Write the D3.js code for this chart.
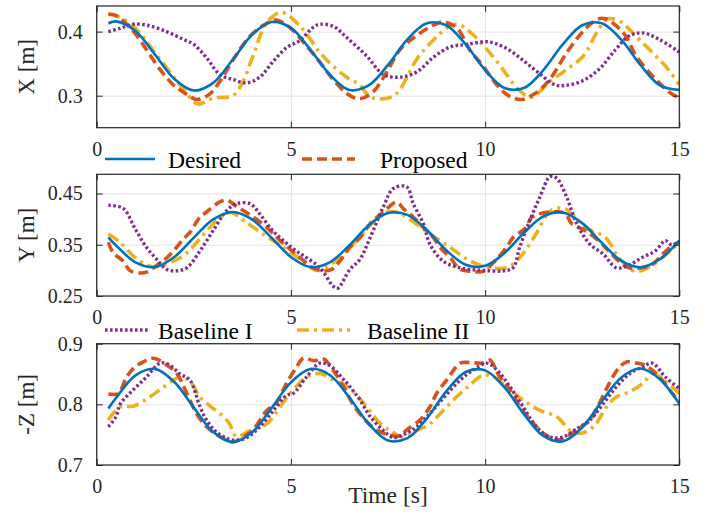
<!DOCTYPE html>
<html><head><meta charset="utf-8">
<script src="https://cdn.jsdelivr.net/npm/d3@7"></script>
<style>
html,body{margin:0;padding:0;background:#fff;}
svg{display:block;}
svg text{font-family:'Liberation Serif', serif !important;}
</style></head>
<body><svg id="chart" width="706" height="517" font-family="Liberation Serif"></svg>
<script>
// ---------- DATA ----------
const xTicks = [0, 5, 10, 15];

// X panel
const xDesired = [[0.3,0.413],[0.5,0.416],[1,0.401],[1.5,0.364],[2,0.326],[2.5,0.308],[3,0.32],[3.5,0.356],[4,0.395],[4.5,0.415],[5,0.406],[5.5,0.372],[6,0.333],[6.5,0.309],[7,0.316],[7.5,0.348],[8,0.388],[8.5,0.413],[9,0.41],[9.5,0.38],[10,0.34],[10.5,0.312],[11,0.312],[11.5,0.34],[12,0.38],[12.5,0.41],[13,0.413],[13.5,0.388],[14,0.348],[14.5,0.316],[15,0.309]];
const xProposed = [[0.3,0.427],[0.5,0.425],[0.94,0.401],[1.28,0.372],[1.63,0.341],[1.97,0.317],[2.32,0.302],[2.57,0.294],[2.9,0.302],[3.2,0.325],[3.52,0.357],[3.95,0.393],[4.38,0.413],[4.63,0.418],[4.98,0.406],[5.4,0.378],[5.75,0.352],[6.09,0.325],[6.45,0.303],[6.75,0.295],[7.1,0.305],[7.45,0.335],[7.81,0.372],[8.24,0.394],[8.67,0.41],[8.92,0.415],[9.27,0.406],[9.61,0.371],[9.95,0.346],[10.3,0.317],[10.6,0.3],[10.94,0.294],[11.3,0.304],[11.66,0.325],[12.1,0.367],[12.53,0.401],[12.88,0.419],[13.1,0.42],[13.56,0.398],[13.9,0.361],[14.4,0.325],[14.8,0.303],[15,0.297]];
const xBaseline1 = [[0.3,0.4],[0.6,0.405],[0.94,0.4115],[1.3,0.41],[1.8,0.4],[2.23,0.388],[2.5,0.38],[2.83,0.359],[3.17,0.333],[3.52,0.325],[3.86,0.32],[4.2,0.329],[4.55,0.354],[4.89,0.375],[5.23,0.386],[5.58,0.407],[5.75,0.4115],[6.1,0.408],[6.45,0.39],[6.95,0.362],[7.38,0.333],[7.81,0.329],[8.24,0.337],[8.67,0.36],[9.1,0.376],[9.53,0.38],[10.1,0.384],[10.6,0.372],[11.0,0.354],[11.37,0.336],[11.8,0.317],[12.06,0.316],[12.5,0.323],[12.93,0.341],[13.36,0.372],[13.7,0.393],[14.05,0.398],[14.48,0.388],[15,0.368]];
const xBaseline2 = [[0.3,0.427],[0.5,0.425],[1.0,0.405],[1.5,0.367],[2.0,0.328],[2.3,0.305],[2.6,0.287],[3.0,0.296],[3.5,0.3],[3.75,0.32],[4.03,0.363],[4.38,0.414],[4.76,0.43],[5.23,0.409],[5.75,0.367],[6.09,0.346],[6.5,0.326],[6.75,0.318],[7.0,0.3],[7.21,0.295],[7.6,0.298],[7.81,0.31],[8.24,0.357],[8.67,0.387],[9.1,0.409],[9.32,0.411],[9.6,0.4],[9.98,0.377],[10.41,0.345],[10.84,0.311],[11.18,0.298],[11.67,0.322],[12.1,0.341],[12.53,0.362],[12.88,0.399],[13.16,0.42],[13.5,0.415],[13.8,0.398],[14.23,0.372],[14.66,0.345],[15,0.317]];

// Y panel
const yDesired = [[0.3,0.3646],[0.5,0.3486],[1,0.3157],[1.5,0.3065],[2,0.3261],[2.5,0.3638],[3,0.3995],[3.5,0.414],[4,0.3995],[4.5,0.3638],[5,0.3261],[5.5,0.3065],[6,0.3157],[6.5,0.3486],[7,0.3876],[7.5,0.4118],[8,0.4083],[8.5,0.3788],[9,0.3393],[9.5,0.3109],[10,0.3088],[10.5,0.3341],[11,0.3734],[11.5,0.4055],[12,0.4131],[12.5,0.3922],[13,0.3542],[13.5,0.3191],[14,0.3061],[14.5,0.3219],[15,0.3582]];
const yProposed = [[0.3,0.355],[0.42,0.335],[0.68,0.318],[0.85,0.3],[1.1,0.295],[1.3,0.297],[1.55,0.31],[1.81,0.325],[2.0,0.34],[2.23,0.361],[2.4,0.374],[2.66,0.404],[2.83,0.414],[3.17,0.4335],[3.35,0.437],[3.6,0.425],[4.03,0.404],[4.38,0.384],[4.55,0.371],[4.75,0.356],[4.98,0.3415],[5.23,0.325],[5.58,0.305],[5.84,0.299],[6.05,0.302],[6.26,0.318],[6.52,0.345],[6.78,0.364],[7.04,0.391],[7.38,0.414],[7.72,0.433],[7.9,0.42],[8.15,0.404],[8.41,0.384],[8.67,0.364],[8.84,0.345],[9.1,0.325],[9.36,0.302],[9.7,0.298],[9.95,0.298],[10.25,0.318],[10.55,0.345],[10.72,0.364],[11.06,0.384],[11.2,0.404],[11.7,0.414],[12.06,0.411],[12.23,0.391],[12.57,0.378],[12.92,0.358],[13.18,0.338],[13.44,0.318],[13.7,0.305],[14.04,0.305],[14.3,0.311],[14.56,0.331],[14.82,0.348],[15,0.355]];
const yBaseline1 = [[0.3,0.427],[0.68,0.421],[0.99,0.381],[1.28,0.345],[1.54,0.322],[1.8,0.302],[2.06,0.299],[2.32,0.305],[2.66,0.338],[3.0,0.378],[3.35,0.417],[3.6,0.43],[3.95,0.43],[4.2,0.41],[4.5,0.38],[4.81,0.358],[5.1,0.34],[5.4,0.325],[5.75,0.305],[6.09,0.269],[6.2,0.265],[6.52,0.302],[6.78,0.322],[7.04,0.364],[7.38,0.424],[7.64,0.46],[7.98,0.463],[8.15,0.43],[8.41,0.391],[8.58,0.351],[8.92,0.318],[9.36,0.305],[9.95,0.3],[10.47,0.299],[10.72,0.305],[10.89,0.345],[11.15,0.397],[11.41,0.443],[11.67,0.483],[11.84,0.48],[12.1,0.443],[12.36,0.391],[12.7,0.351],[13.04,0.332],[13.38,0.305],[13.7,0.31],[14.04,0.325],[14.38,0.338],[14.64,0.358],[14.8,0.35],[15,0.355]];
const yBaseline2 = [[0.3,0.371],[0.6,0.355],[0.99,0.325],[1.45,0.307],[1.97,0.318],[2.32,0.334],[2.66,0.362],[3.09,0.397],[3.43,0.413],[3.86,0.393],[4.3,0.37],[4.8,0.345],[5.2,0.324],[5.66,0.3],[6.0,0.31],[6.5,0.343],[7.0,0.385],[7.38,0.411],[7.72,0.414],[8.24,0.39],[8.58,0.371],[9.1,0.345],[9.53,0.322],[9.95,0.308],[10.55,0.305],[10.89,0.325],[11.24,0.362],[11.7,0.417],[12.06,0.42],[12.57,0.384],[13.1,0.364],[13.44,0.325],[13.87,0.298],[14.3,0.31],[14.82,0.342],[15,0.355]];

// -Z panel
const zDesired = [[0.3,0.793],[0.5,0.8108],[1,0.8479],[1.5,0.8585],[2,0.8368],[2.5,0.7946],[3,0.7545],[3.5,0.738],[4,0.7539],[4.5,0.7938],[5,0.8362],[5.5,0.8583],[6,0.8484],[6.5,0.8118],[7,0.768],[7.5,0.7405],[8,0.7442],[8.5,0.777],[9,0.8213],[9.5,0.8534],[10,0.856],[10.5,0.8278],[11,0.7839],[11.5,0.7478],[12,0.7389],[12.5,0.7619],[13,0.8046],[13.5,0.844],[14,0.859],[14.5,0.8415],[15,0.801]];
const zProposed = [[0.3,0.817],[0.55,0.818],[0.77,0.845],[0.94,0.859],[1.2,0.87],[1.46,0.876],[1.8,0.865],[2.06,0.851],[2.32,0.818],[2.57,0.785],[2.83,0.763],[3.17,0.747],[3.52,0.738],[3.86,0.75],[4.03,0.758],[4.38,0.79],[4.6,0.8],[4.89,0.835],[5.15,0.862],[5.32,0.876],[5.6,0.872],[5.84,0.875],[6.1,0.855],[6.35,0.83],[6.6,0.8],[6.9,0.775],[7.2,0.758],[7.5,0.75],[7.81,0.748],[7.98,0.758],[8.32,0.774],[8.58,0.796],[8.75,0.818],[9.01,0.84],[9.36,0.868],[9.61,0.869],[9.95,0.868],[10.12,0.873],[10.38,0.845],[10.64,0.824],[10.9,0.796],[11.24,0.769],[11.5,0.752],[11.84,0.741],[12.1,0.747],[12.4,0.76],[12.7,0.774],[12.96,0.804],[13.2,0.835],[13.44,0.86],[13.64,0.87],[13.9,0.868],[14.1,0.865],[14.3,0.857],[14.56,0.84],[14.82,0.818],[15,0.804]];
const zBaseline1 = [[0.3,0.763],[0.5,0.78],[0.6,0.8],[0.94,0.824],[1.28,0.845],[1.63,0.868],[1.85,0.866],[2.15,0.85],[2.4,0.84],[2.66,0.796],[2.83,0.774],[3.09,0.754],[3.52,0.741],[3.86,0.745],[4.2,0.763],[4.55,0.79],[4.89,0.815],[5.06,0.818],[5.4,0.845],[5.75,0.868],[6.0,0.864],[6.3,0.845],[6.52,0.829],[6.78,0.807],[7.04,0.78],[7.38,0.757],[7.64,0.745],[7.9,0.75],[8.24,0.763],[8.58,0.785],[8.92,0.81],[9.36,0.84],[9.7,0.857],[10.04,0.868],[10.3,0.857],[10.64,0.829],[10.98,0.796],[11.32,0.763],[11.67,0.746],[12.0,0.746],[12.36,0.76],[12.7,0.774],[13.04,0.801],[13.38,0.829],[13.73,0.851],[14.07,0.862],[14.3,0.868],[14.64,0.845],[15,0.826]];
const zBaseline2 = [[0.3,0.774],[0.6,0.796],[0.94,0.797],[1.37,0.8125],[1.8,0.832],[2.15,0.845],[2.4,0.838],[2.66,0.812],[2.92,0.797],[3.17,0.785],[3.4,0.77],[3.6,0.747],[3.95,0.757],[4.38,0.768],[4.72,0.796],[5.06,0.824],[5.4,0.845],[5.75,0.851],[6.09,0.84],[6.52,0.826],[6.95,0.796],[7.29,0.769],[7.55,0.757],[7.9,0.746],[8.24,0.757],[8.58,0.768],[8.92,0.79],[9.27,0.8125],[9.61,0.832],[9.95,0.848],[10.2,0.846],[10.55,0.829],[10.98,0.807],[11.41,0.79],[11.84,0.78],[12.19,0.757],[12.45,0.752],[12.79,0.763],[13.13,0.796],[13.38,0.812],[13.73,0.821],[14.07,0.835],[14.3,0.851],[14.6,0.84],[15,0.818]];

const xPanelTicks = [0.3, 0.4];
const yPanelTicks = [0.25, 0.35, 0.45];
const zPanelTicks = [0.7, 0.8, 0.9];

// ---------- STYLE ----------
const FONT = "'Liberation Serif', serif";
const styles = {
  "Desired":     {color:"#0072BD", width:2.6, dash:null},
  "Proposed":    {color:"#D95319", width:3.6, dash:"10,5"},
  "Baseline I":  {color:"#7E2F8E", width:3.4, dash:"2.6,2.4"},
  "Baseline II": {color:"#EDB120", width:3.6, dash:"12,5,3,5"}
};
const drawOrder = ["Baseline II", "Proposed", "Baseline I", "Desired"];

const svg = d3.select("#chart");
const L = 96.7, R = 679.3;
const x = d3.scaleLinear().domain([0, 15]).range([L, R]);

const panels = [
  {top:6, bottom:127.7, domain:[0.25,0.44], ticks:xPanelTicks, fmt:d3.format(".1f"), label:"X [m]",
   data:{"Desired":xDesired,"Proposed":xProposed,"Baseline I":xBaseline1,"Baseline II":xBaseline2}},
  {top:174.3, bottom:296, domain:[0.25,0.4875], ticks:yPanelTicks, fmt:d3.format(".2f"), label:"Y [m]",
   data:{"Desired":yDesired,"Proposed":yProposed,"Baseline I":yBaseline1,"Baseline II":yBaseline2}},
  {top:343.7, bottom:465, domain:[0.7,0.9], ticks:zPanelTicks, fmt:d3.format(".1f"), label:"-Z [m]",
   data:{"Desired":zDesired,"Proposed":zProposed,"Baseline I":zBaseline1,"Baseline II":zBaseline2}}
];

const axisColor = "#262626";
const defs = svg.append("defs");
panels.forEach((p, i) => {
  const y = d3.scaleLinear().domain(p.domain).range([p.bottom, p.top]);
  const g = svg.append("g");
  const h = p.bottom - p.top, w = R - L;

  g.append("g").attr("transform", `translate(0,${p.bottom})`)
    .call(d3.axisBottom(x).tickValues(xTicks).tickSize(-h).tickFormat(""))
    .call(s => { s.select(".domain").remove(); s.selectAll("line").attr("stroke","#e3e3e3").attr("stroke-width",1); });
  g.append("g").attr("transform", `translate(${L},0)`)
    .call(d3.axisLeft(y).tickValues(p.ticks).tickSize(-w).tickFormat(""))
    .call(s => { s.select(".domain").remove(); s.selectAll("line").attr("stroke","#e3e3e3").attr("stroke-width",1); });

  const cid = "clip" + i;
  defs.append("clipPath").attr("id", cid).append("rect")
    .attr("x", L).attr("y", p.top).attr("width", w).attr("height", h);

  const line = d3.line().x(d => x(d[0])).y(d => y(d[1])).curve(d3.curveCatmullRom.alpha(0.5));
  const lg = g.append("g").attr("clip-path", `url(#${cid})`);
  drawOrder.forEach(name => {
    const st = styles[name];
    lg.append("path").datum(p.data[name])
      .attr("d", line).attr("fill","none")
      .attr("stroke", st.color).attr("stroke-width", st.width)
      .attr("stroke-dasharray", st.dash)
      .attr("stroke-linejoin","round");
  });

  const tk = 6;
  const bottomAx = g.append("g").attr("transform", `translate(0,${p.bottom})`)
    .call(d3.axisBottom(x).tickValues(xTicks).tickSizeInner(-tk).tickSizeOuter(0).tickPadding(14).tickFormat(d3.format("d")));
  const topAx = g.append("g").attr("transform", `translate(0,${p.top})`)
    .call(d3.axisTop(x).tickValues(xTicks).tickSizeInner(-tk).tickSizeOuter(0).tickFormat(""));
  const leftAx = g.append("g").attr("transform", `translate(${L},0)`)
    .call(d3.axisLeft(y).tickValues(p.ticks).tickSizeInner(-tk).tickSizeOuter(0).tickPadding(14).tickFormat(p.fmt));
  const rightAx = g.append("g").attr("transform", `translate(${R},0)`)
    .call(d3.axisRight(y).tickValues(p.ticks).tickSizeInner(-tk).tickSizeOuter(0).tickFormat(""));
  [bottomAx, topAx, leftAx, rightAx].forEach(a => {
    a.attr("font-family", "Liberation Serif");
    a.select(".domain").remove();
    a.selectAll("line").attr("stroke", axisColor).attr("stroke-width", 1);
    a.selectAll("text").style("font-family", FONT).style("font-size", "20px").attr("fill", axisColor);
  });
  bottomAx.selectAll("text").attr("dy", "0.71em");

  g.append("rect").attr("x", L).attr("y", p.top).attr("width", w).attr("height", h)
    .attr("fill","none").attr("stroke", axisColor).attr("stroke-width", 1.2);

  g.append("text")
    .attr("transform", `translate(34,${(p.top + p.bottom) / 2}) rotate(-90)`)
    .attr("text-anchor","middle").style("font-family", FONT).style("font-size","23px")
    .attr("fill", axisColor).text(p.label);
});

svg.append("text").attr("x", (L + R) / 2).attr("y", 503)
  .attr("text-anchor","middle").style("font-family", FONT).style("font-size","23.5px")
  .attr("fill", axisColor).text("Time [s]");

const legendItems = [
  {name:"Desired",     x1:105, x2:155, y:159, tx:168},
  {name:"Proposed",    x1:302, x2:355, y:159, tx:380},
  {name:"Baseline I",  x1:105, x2:148, y:330, tx:158},
  {name:"Baseline II", x1:297, x2:350, y:330, tx:367}
];
legendItems.forEach(it => {
  const st = styles[it.name];
  svg.append("line").attr("x1", it.x1).attr("x2", it.x2).attr("y1", it.y).attr("y2", it.y)
    .attr("stroke", st.color).attr("stroke-width", st.width).attr("stroke-dasharray", st.dash);
  svg.append("text").attr("x", it.tx).attr("y", it.y + 9).style("font-family", FONT)
    .style("font-size","23.5px").attr("fill", "#000").text(it.name);
});
</script></body></html>
